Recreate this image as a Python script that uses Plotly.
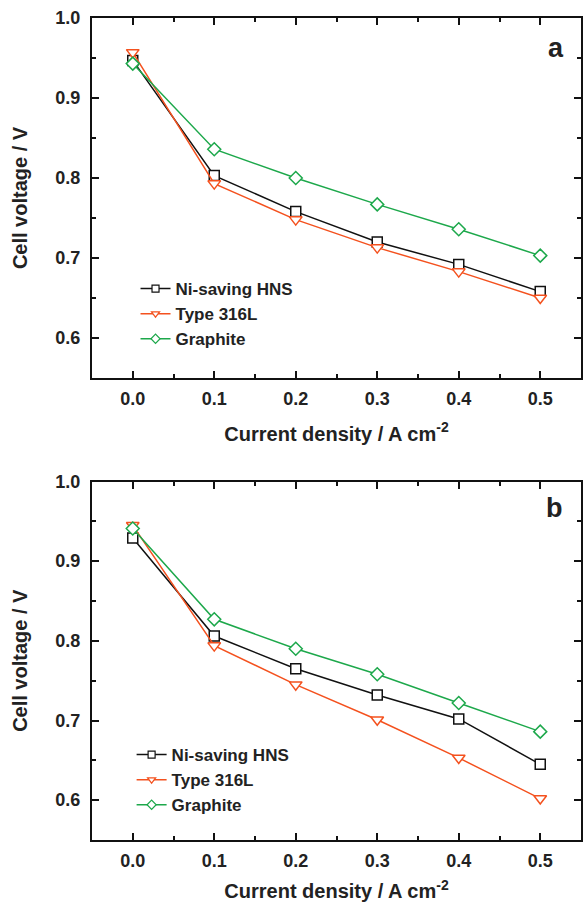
import plotly.graph_objects as go

current = [0.0, 0.1, 0.2, 0.3, 0.4, 0.5]
series_names = ["Ni-saving HNS", "Type 316L", "Graphite"]

a_ni = [0.947, 0.803, 0.758, 0.720, 0.692, 0.658]
a_316 = [0.957, 0.793, 0.748, 0.713, 0.683, 0.650]
a_gr = [0.943, 0.836, 0.800, 0.767, 0.736, 0.703]

b_ni = [0.929, 0.806, 0.765, 0.732, 0.702, 0.645]
b_316 = [0.945, 0.794, 0.745, 0.701, 0.653, 0.602]
b_gr = [0.941, 0.827, 0.790, 0.758, 0.722, 0.686]

panel_labels = ["a", "b"]
x_ticks = [0.0, 0.1, 0.2, 0.3, 0.4, 0.5]
y_ticks = [0.6, 0.7, 0.8, 0.9, 1.0]

colors = ["#111111", "#F4511E", "#1DA84B"]
symbols = ["square", "triangle-down", "diamond"]
sizes = [10, 11, 10]

FONT = "Liberation Sans, Arial, sans-serif"
TXT = "#222222"

def bfont(size):
    return dict(family=FONT, size=size, color=TXT, weight="bold")

fig = go.Figure()

panels = [(a_ni, a_316, a_gr), (b_ni, b_316, b_gr)]
for p, data in enumerate(panels):
    xa = "x" if p == 0 else "x2"
    ya = "y" if p == 0 else "y2"
    lg = "legend" if p == 0 else "legend2"
    for i, ys in enumerate(data):
        fig.add_trace(go.Scatter(
            x=current, y=ys, mode="lines+markers", xaxis=xa, yaxis=ya,
            line=dict(color=colors[i], width=1.5),
            marker=dict(symbol=symbols[i], size=sizes[i],
                        color="white", line=dict(color=colors[i], width=1.5)),
            showlegend=False, name=series_names[i]))
    for i in range(3):
        fig.add_trace(go.Scatter(
            x=[None], y=[None], mode="lines+markers", xaxis=xa, yaxis=ya,
            line=dict(color=colors[i], width=1.5),
            marker=dict(symbol=symbols[i], size=7,
                        color="white", line=dict(color=colors[i], width=1.2)),
            name=series_names[i], legend=lg, showlegend=True))

xax = dict(range=[-0.05, 0.55], tickvals=x_ticks, tickformat=".1f",
           ticks="inside", ticklen=7, tickwidth=2, tickcolor="#111",
           showline=True, linewidth=2, linecolor="#111", mirror="allticks",
           showgrid=False, zeroline=False,
           minor=dict(ticks="inside", ticklen=4, tickwidth=1.5, dtick=0.05, tick0=0, tickcolor="#111", showgrid=False),
           tickfont=bfont(18), ticklabelstandoff=3,
           title=dict(text="Current density / A cm<sup>-2</sup>",
                      font=bfont(20), standoff=19),
           automargin=False)
yax = dict(range=[0.55, 1.0], tickvals=y_ticks, tickformat=".1f",
           ticks="inside", ticklen=7, tickwidth=2, tickcolor="#111",
           showline=True, linewidth=2, linecolor="#111", mirror="allticks",
           showgrid=False, zeroline=False,
           minor=dict(ticks="inside", ticklen=4, tickwidth=1.5, dtick=0.05, tick0=0, tickcolor="#111", showgrid=False),
           tickfont=bfont(18), ticklabelstandoff=6,
           title=dict(text="Cell voltage / V", font=bfont(20), standoff=22),
           automargin=False)

top_dom = [1 - 360 / 822, 1.0]
bot_dom = [0.0, (822 - 463.5) / 822]

fig.update_layout(
    width=583, height=902,
    margin=dict(l=92, r=2, t=18, b=62),
    paper_bgcolor="white", plot_bgcolor="white",
    font=dict(family=FONT, size=17, color=TXT),
    xaxis=dict(**xax, domain=[0, 1], anchor="y"),
    yaxis=dict(**yax, domain=top_dom, anchor="x"),
    xaxis2=dict(**xax, domain=[0, 1], anchor="y2"),
    yaxis2=dict(**yax, domain=bot_dom, anchor="x2"),
    legend=dict(x=0.089, y=(840 - 271) / 822, xanchor="left", yanchor="top",
                bgcolor="rgba(0,0,0,0)", font=bfont(17),
                tracegroupgap=0),
    legend2=dict(x=0.081, y=(840 - 737) / 822, xanchor="left", yanchor="top",
                 bgcolor="rgba(0,0,0,0)", font=bfont(17),
                 tracegroupgap=0),
    showlegend=True,
)

fig.update_layout(annotations=[
    dict(text=panel_labels[0], xref="x domain", yref="y domain",
         x=0.949, y=0.917, xanchor="center", yanchor="middle",
         showarrow=False, font=bfont(27)),
    dict(text=panel_labels[1], xref="x2 domain", yref="y2 domain",
         x=0.945, y=0.926, xanchor="center", yanchor="middle",
         showarrow=False, font=bfont(27)),
])

fig.write_html("out.html")
